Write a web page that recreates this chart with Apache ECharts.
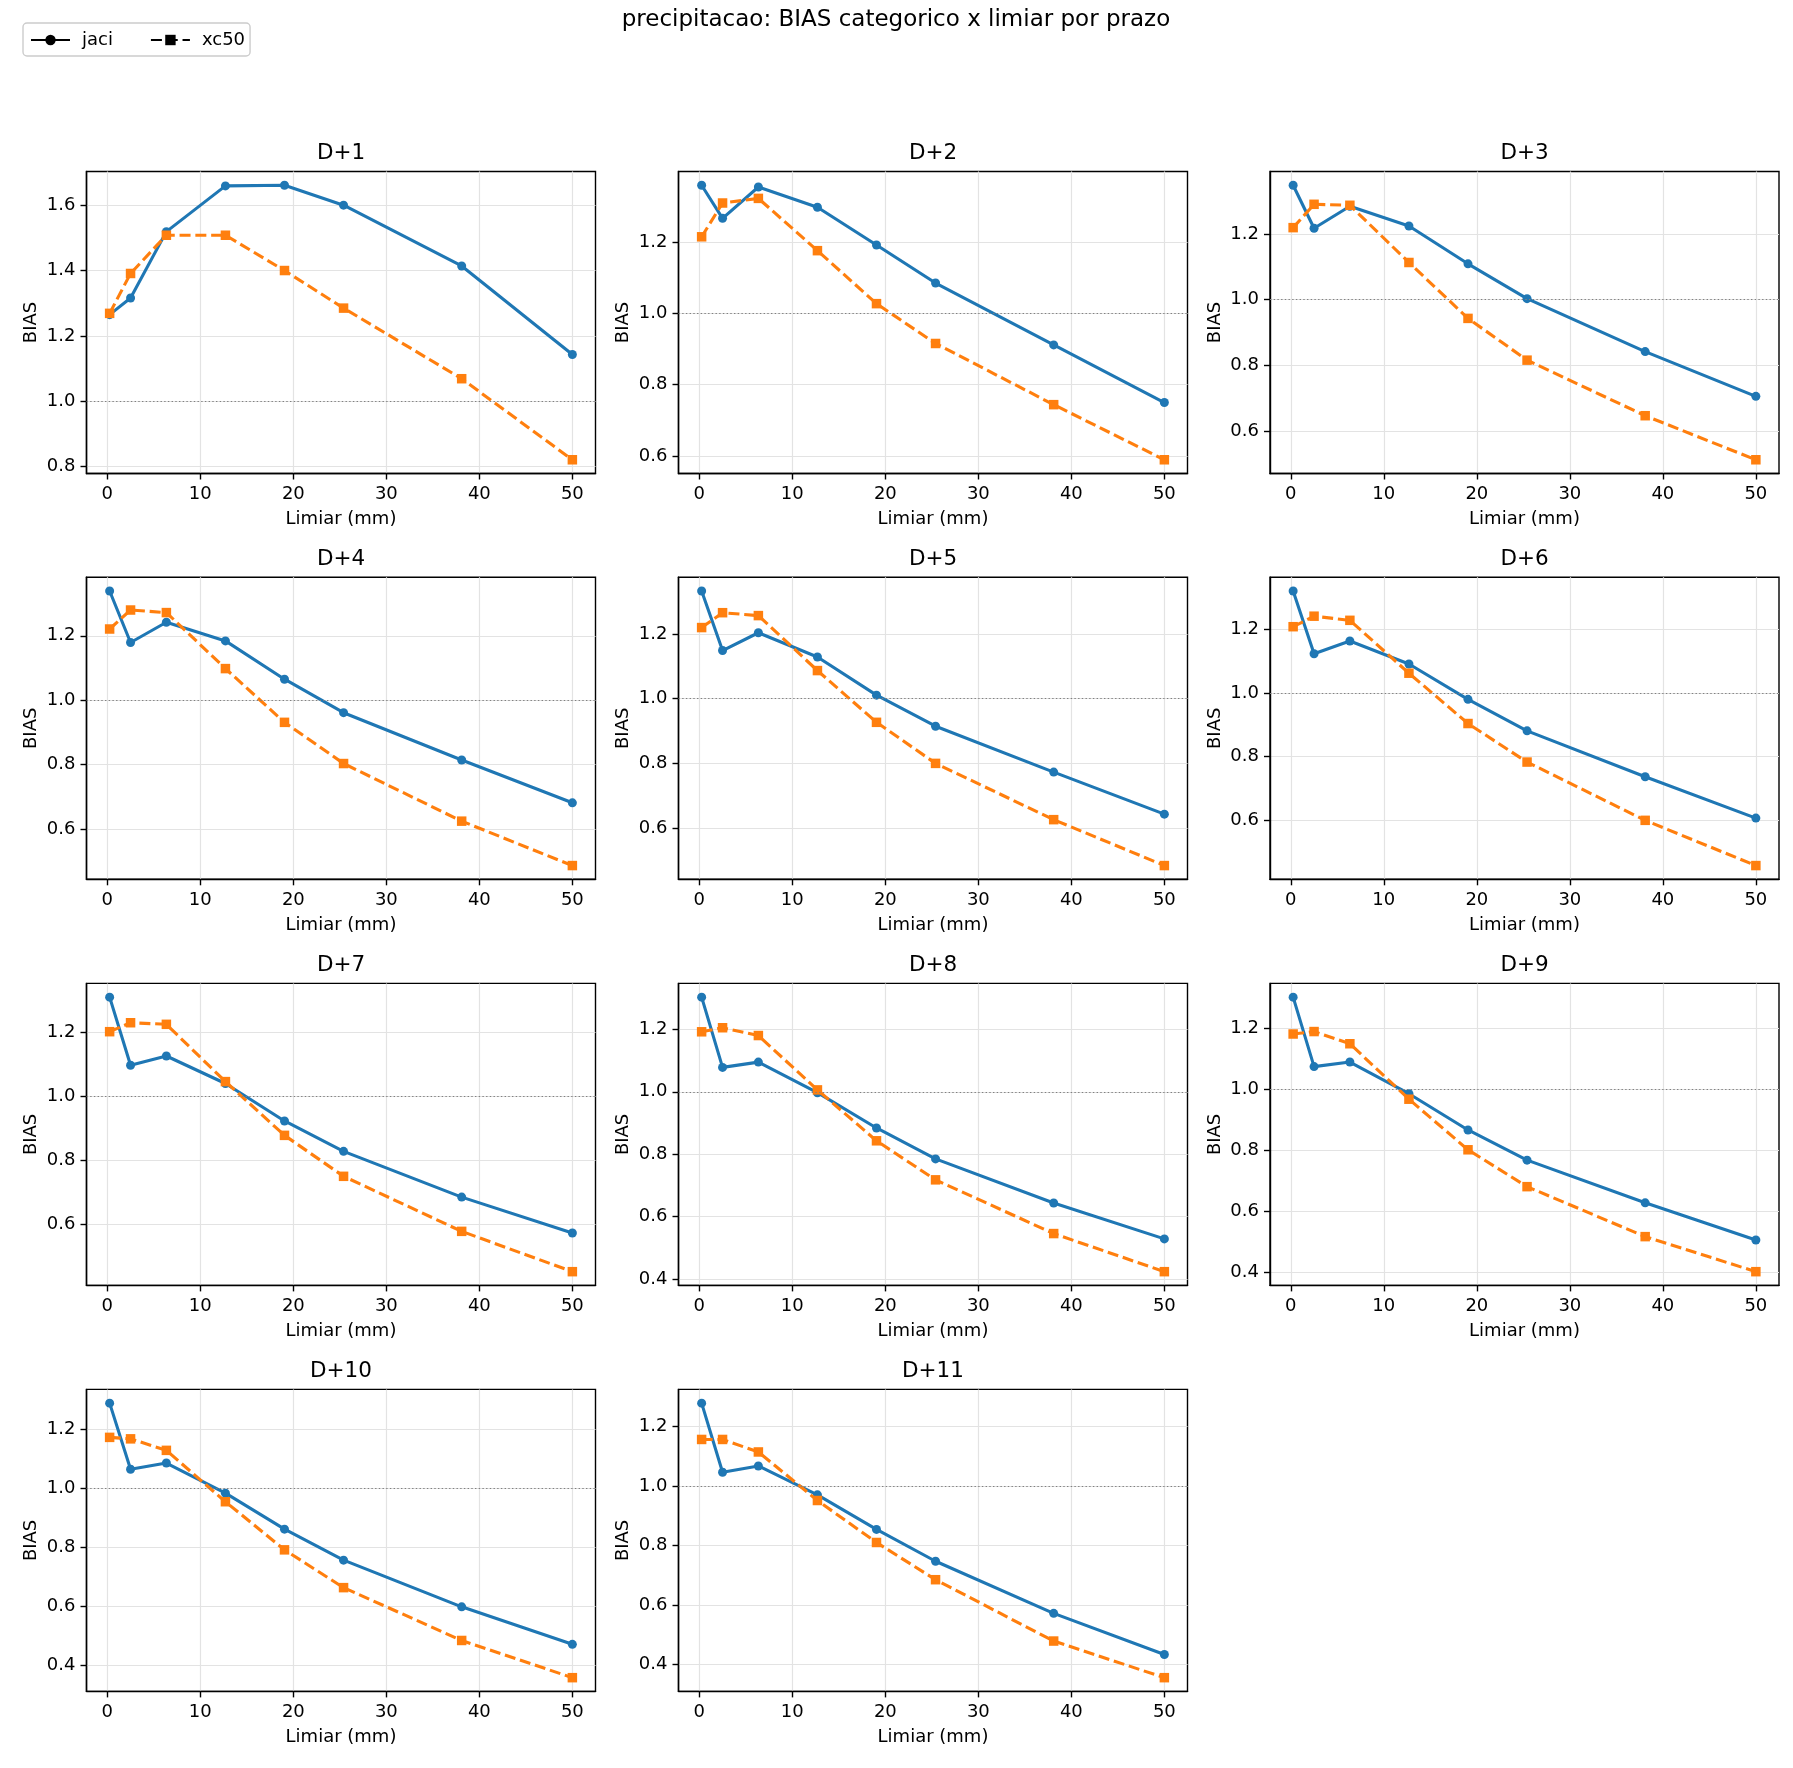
<!DOCTYPE html>
<html>
<head>
<meta charset="utf-8">
<script src="https://cdn.jsdelivr.net/npm/echarts@6/dist/echarts.min.js"></script>
<style>
html,body{margin:0;padding:0;background:#fff;}
#chart{width:1793px;height:1768px;}
</style>
</head>
<body>
<div id="chart"></div>
<script>
// ---- data ----
const leadTimes = ['D+1','D+2','D+3','D+4','D+5','D+6','D+7','D+8','D+9','D+10','D+11'];
const thresholds = [0.25, 2.5, 6.35, 12.7, 19.05, 25.4, 38.1, 50];
const seriesNames = ['jaci', 'xc50'];
const jaci = [
  [1.265, 1.316, 1.519, 1.659, 1.661, 1.600, 1.414, 1.143],
  [1.361, 1.268, 1.356, 1.299, 1.193, 1.086, 0.912, 0.750],
  [1.348, 1.217, 1.284, 1.224, 1.109, 1.003, 0.842, 0.706],
  [1.339, 1.179, 1.242, 1.184, 1.065, 0.961, 0.814, 0.681],
  [1.333, 1.149, 1.204, 1.129, 1.011, 0.915, 0.773, 0.643],
  [1.320, 1.123, 1.163, 1.091, 0.980, 0.881, 0.737, 0.607],
  [1.309, 1.096, 1.125, 1.039, 0.922, 0.827, 0.684, 0.572],
  [1.303, 1.078, 1.095, 0.997, 0.884, 0.785, 0.644, 0.529],
  [1.302, 1.074, 1.089, 0.985, 0.866, 0.767, 0.627, 0.505],
  [1.288, 1.064, 1.085, 0.983, 0.861, 0.756, 0.598, 0.471],
  [1.278, 1.046, 1.067, 0.970, 0.854, 0.747, 0.572, 0.434]
];
const xc50 = [
  [1.269, 1.391, 1.508, 1.508, 1.400, 1.285, 1.069, 0.821],
  [1.216, 1.311, 1.324, 1.177, 1.028, 0.916, 0.744, 0.589],
  [1.219, 1.290, 1.287, 1.113, 0.943, 0.816, 0.647, 0.513],
  [1.221, 1.280, 1.272, 1.098, 0.931, 0.803, 0.624, 0.486],
  [1.220, 1.266, 1.257, 1.087, 0.927, 0.800, 0.626, 0.484],
  [1.208, 1.241, 1.228, 1.062, 0.904, 0.783, 0.600, 0.458],
  [1.201, 1.229, 1.224, 1.045, 0.877, 0.749, 0.577, 0.451],
  [1.192, 1.205, 1.180, 1.006, 0.843, 0.718, 0.546, 0.424],
  [1.181, 1.189, 1.149, 0.967, 0.801, 0.680, 0.516, 0.401],
  [1.172, 1.167, 1.128, 0.954, 0.791, 0.663, 0.484, 0.358],
  [1.156, 1.156, 1.114, 0.951, 0.810, 0.685, 0.479, 0.356]
];
const xTicks = [0, 10, 20, 30, 40, 50];
const yTickValues = [0.4, 0.6, 0.8, 1.0, 1.2, 1.4, 1.6];
const refValue = 1.0;

// ---- layout / style ----
const FONT = 'DejaVu Sans';
const colLeft = [86.5, 678.5, 1270];
const rowTop = [171.5, 577.3, 983.4, 1389.4];
const W = 509, H = 302;
const BLUE = '#1f77b4', ORANGE = '#ff7f0e';

function pad(lo, hi) { const m = (hi - lo) * 0.05; return [lo - m, hi + m]; }
const xr = pad(Math.min(...thresholds), Math.max(...thresholds));

const grids = [], xAxes = [], yAxes = [], series = [];
const titles = [{
  text: 'precipitacao: BIAS categorico x limiar por prazo',
  left: 896, top: 9, textAlign: 'center', padding: 0,
  textStyle: {fontSize: 23, fontWeight: 'normal', color: '#000', fontFamily: FONT}
}];

leadTimes.forEach((lt, i) => {
  const r = Math.floor(i / 3), c = i % 3;
  const all = jaci[i].concat(xc50[i]);
  const yr = pad(Math.min(...all), Math.max(...all));
  const yT = yTickValues.filter(v => v >= yr[0] - 1e-9 && v <= yr[1] + 1e-9);
  grids.push({left: colLeft[c], top: rowTop[r], width: W, height: H, show: true,
    borderColor: '#000', borderWidth: 1.4, backgroundColor: 'transparent'});
  titles.push({text: lt, left: colLeft[c] + W / 2, top: rowTop[r] - 29, textAlign: 'center', padding: 0,
    textStyle: {fontSize: 21.5, fontWeight: 'normal', color: '#000', fontFamily: FONT}});
  xAxes.push({
    type: 'value', gridIndex: i, min: xr[0], max: xr[1], minInterval: 10, maxInterval: 10,
    axisLine: {show: true, onZero: false, lineStyle: {color: '#000', width: 1.4}},
    axisTick: {show: true, length: 6, customValues: xTicks, lineStyle: {color: '#000', width: 1.4}},
    axisLabel: {customValues: xTicks, margin: 12, fontSize: 18, color: '#000', fontFamily: FONT},
    splitLine: {show: true, lineStyle: {color: '#e3e3e3', width: 1.2}},
    name: 'Limiar (mm)', nameLocation: 'middle', nameGap: 37,
    nameTextStyle: {fontSize: 18, color: '#000', fontFamily: FONT}
  });
  yAxes.push({
    type: 'value', gridIndex: i, min: yr[0], max: yr[1], minInterval: 0.2, maxInterval: 0.2,
    axisLine: {show: true, onZero: false, lineStyle: {color: '#000', width: 1.4}},
    axisTick: {show: true, length: 6, customValues: yT, lineStyle: {color: '#000', width: 1.4}},
    axisLabel: {customValues: yT, margin: 11, fontSize: 18, color: '#000', fontFamily: FONT,
      formatter: v => Number(v).toFixed(1)},
    splitLine: {show: true, lineStyle: {color: '#e3e3e3', width: 1.2}},
    name: 'BIAS', nameLocation: 'middle', nameGap: 46,
    nameTextStyle: {fontSize: 18, color: '#000', fontFamily: FONT}
  });
  series.push({
    name: seriesNames[0], type: 'line', xAxisIndex: i, yAxisIndex: i,
    data: thresholds.map((t, k) => [t, jaci[i][k]]),
    symbol: 'circle', symbolSize: 9, showSymbol: true,
    lineStyle: {color: BLUE, width: 3.1}, itemStyle: {color: BLUE},
    markLine: {silent: true, symbol: ['none', 'none'], label: {show: false},
      lineStyle: {type: [1.4, 2.3], color: '#808080', width: 1.2},
      data: [{yAxis: refValue}]},
    z: 3
  });
  series.push({
    name: seriesNames[1], type: 'line', xAxisIndex: i, yAxisIndex: i,
    data: thresholds.map((t, k) => [t, xc50[i][k]]),
    symbol: 'rect', symbolSize: 9.5, showSymbol: true,
    lineStyle: {color: ORANGE, width: 3.1, type: [11, 4.8]}, itemStyle: {color: ORANGE},
    z: 4
  });
});

const chart = echarts.init(document.getElementById('chart'), null, {renderer: 'canvas'});
chart.setOption({
  animation: false,
  backgroundColor: '#fff',
  title: titles,
  legend: {
    data: seriesNames, left: 23, top: 23, orient: 'horizontal',
    itemWidth: 39, itemHeight: 13, itemGap: 37, padding: [8, 5, 7, 7],
    borderColor: '#cccccc', borderWidth: 1.4, borderRadius: 4, backgroundColor: '#fff',
    textStyle: {fontSize: 18, color: '#000', fontFamily: FONT, padding: [0, 0, 0, 7]},
    itemStyle: {color: '#000'}, lineStyle: {color: '#000'}
  },
  grid: grids, xAxis: xAxes, yAxis: yAxes, series: series
});
</script>
</body>
</html>
